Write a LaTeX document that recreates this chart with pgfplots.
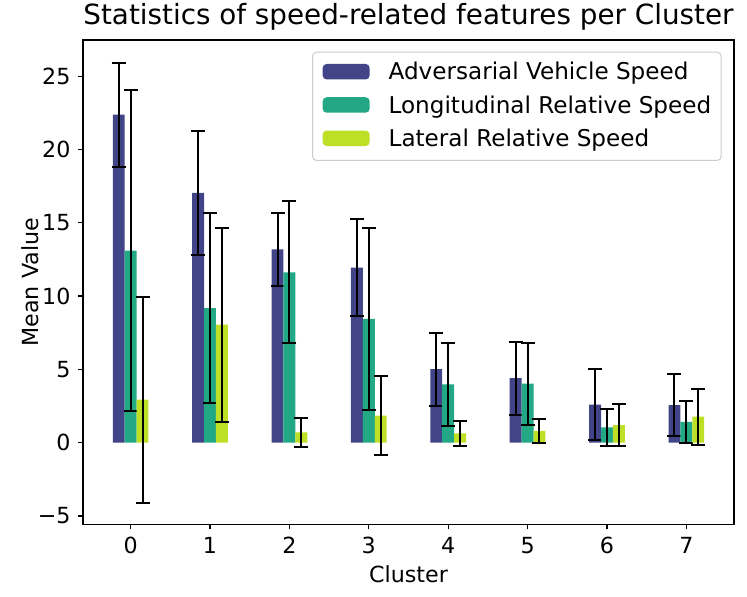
\documentclass[border=0pt]{standalone}
\usepackage{fontspec}
\setmainfont{DejaVu Sans}
\usepackage{pgfplots}
\pgfplotsset{compat=1.18}
\usepackage{pgfplotstable}
\definecolor{c1}{HTML}{414487}
\definecolor{c2}{HTML}{22A884}
\definecolor{c3}{HTML}{BDDF26}
\definecolor{lgray}{HTML}{CCCCCC}

% x = bar centre (cluster - 0.15, cluster, cluster + 0.15)
\pgfplotstableread{
x y e
-0.15 22.37 3.55
0.85 17.03 4.24
1.85 13.18 2.50
2.85 11.93 3.31
3.85 5.01 2.49
4.85 4.40 2.49
5.85 2.59 2.41
6.85 2.56 2.10
}\adv
\pgfplotstableread{
x y e
0 13.10 10.93
1 9.18 6.50
2 11.62 4.84
3 8.44 6.21
4 3.98 2.82
5 4.03 2.80
6 1.05 1.25
7 1.41 1.43
}\lon
\pgfplotstableread{
x y e
0.15 2.93 7.02
1.15 8.05 6.61
2.15 0.71 0.99
3.15 1.84 2.70
4.15 0.64 0.84
5.15 0.81 0.83
6.15 1.19 1.45
7.15 1.77 1.91
}\lat

\newcommand{\tfont}{\fontsize{22.2}{26}\selectfont}
\newcommand{\lfont}{\fontsize{23.1}{27}\selectfont}

\begin{document}
\begin{tikzpicture}
\begin{axis}[
  scale only axis, width=651pt, height=484.5pt,
  xmin=-0.6, xmax=7.6, ymin=-5.58, ymax=27.46,
  ybar, bar width=0.15, bar shift=0pt,
  xtick={0,1,2,3,4,5,6,7},
  ytick={-5,0,5,10,15,20,25},
  yticklabels={−5,0,5,10,15,20,25},
  /pgf/number format/assume math mode=true,
  tick pos=left,
  tick align=outside, major tick length=4.9pt,
  tick style={black, line width=1.1pt},
  axis line style={black, line width=1.1pt},
  ticklabel style={font=\tfont, inner sep=0pt},
  yticklabel style={anchor=east, xshift=-7.4pt},
  xticklabel style={anchor=north, yshift=-7.3pt},
  title={Statistics of speed-related features per Cluster},
  title style={at={(axis description cs:0.5,1.019195)}, anchor=base, inner sep=0pt, font=\fontsize{27.8}{32}\selectfont},
  xlabel={Cluster},
  every axis x label/.style={at={(axis description cs:0.5,-0.11868)}, anchor=base, inner sep=0pt, font=\tfont},
  ylabel={Mean Value},
  every axis y label/.style={at={(axis description cs:-0.06866,0.5)}, rotate=90, anchor=base, inner sep=0pt, font=\tfont},
  legend style={at={(axis description cs:1,1)}, xshift=-12.3pt, yshift=-11.7pt, anchor=north east,
    draw=lgray, line width=1pt, rounded corners=4pt, fill=white, fill opacity=0.8, draw opacity=1, text opacity=1,
    inner xsep=10pt, inner ysep=10pt, row sep=11.6pt, font=\lfont,
    nodes={inner sep=0pt}},
  legend cell align=left,
  legend image code/.code={\fill[#1, draw=none, fill opacity=1] (0pt,-7.75pt) rectangle (47pt,7.75pt); \path (66pt,-12.15pt);},
  error bars/y dir=both, error bars/y explicit,
  error bars/error mark=|,
  error bars/error bar style={line width=2pt, black},
  error bars/error mark options={line width=2pt, mark size=7pt, black},
]
\addplot[fill=c1, draw=none] table[x=x, y=y, y error=e]{\adv};
\addplot[fill=c2, draw=none] table[x=x, y=y, y error=e]{\lon};
\addplot[fill=c3, draw=none] table[x=x, y=y, y error=e]{\lat};
\legend{Adversarial Vehicle Speed, Longitudinal Relative Speed, Lateral Relative Speed}
\end{axis}
\pgfresetboundingbox
\path[use as bounding box] (-83pt,-72.5pt) rectangle (664pt,524.5pt);
\end{tikzpicture}
\end{document}
